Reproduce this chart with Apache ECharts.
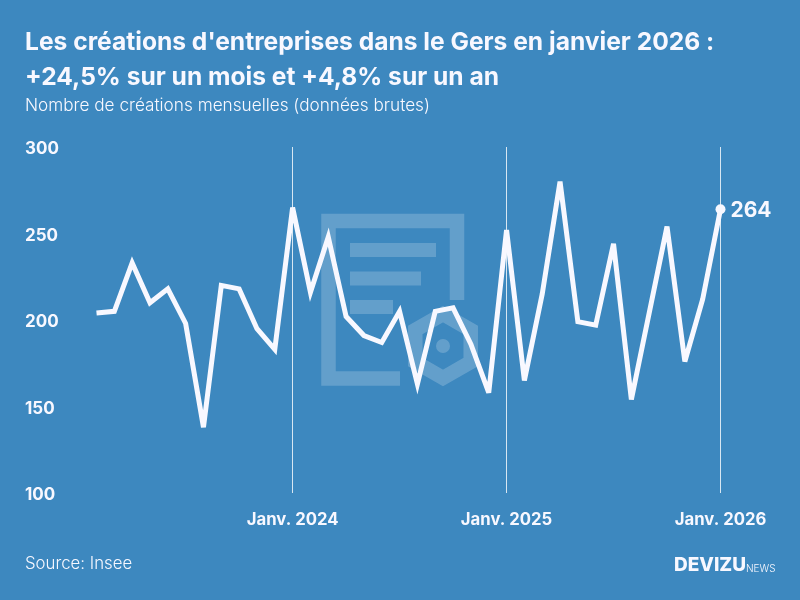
<!DOCTYPE html>
<html>
<head>
<meta charset="utf-8">
<title>Créations d'entreprises dans le Gers</title>
<script src="https://cdn.jsdelivr.net/npm/echarts@6/dist/echarts.min.js"></script>
<style>
html, body { margin: 0; padding: 0; background: #3d88bf; }
#chart { width: 800px; height: 600px; }
</style>
</head>
<body>
<div id="chart"></div>
<script>
var months = [
    'Févr. 2023', 'Mars 2023', 'Avr. 2023', 'Mai 2023', 'Juin 2023', 'Juil. 2023', 'Août 2023', 'Sept. 2023', 'Oct. 2023', 'Nov. 2023', 'Déc. 2023',
    'Janv. 2024', 'Févr. 2024', 'Mars 2024', 'Avr. 2024', 'Mai 2024', 'Juin 2024', 'Juil. 2024', 'Août 2024', 'Sept. 2024', 'Oct. 2024', 'Nov. 2024', 'Déc. 2024',
    'Janv. 2025', 'Févr. 2025', 'Mars 2025', 'Avr. 2025', 'Mai 2025', 'Juin 2025', 'Juil. 2025', 'Août 2025', 'Sept. 2025', 'Oct. 2025', 'Nov. 2025', 'Déc. 2025',
    'Janv. 2026'
];
var creations = [
    204, 205, 233, 210, 218, 198, 138, 220, 218, 195, 183,
    265, 216, 248, 202, 191, 187, 205, 163, 205, 207, 186, 158,
    252, 165, 215, 280, 199, 197, 244, 154, 204, 254, 176, 212,
    264
];
var titleLine1 = "Les créations d'entreprises dans le Gers en janvier 2026 :";
var titleLine2 = '+24,5% sur un mois et +4,8% sur un an';
var subtitle = 'Nombre de créations mensuelles (données brutes)';
var source = 'Source: Insee';

var FONT = 'Inter';
var INK = '#f8f8ff';
var GHOST = 'rgba(255,255,255,0.2)';

function isJanuary(index) {
    return months[index].indexOf('Janv.') === 0;
}

// filigrane hexagonal
function hexagon(cx, cy, r) {
    var pts = [];
    for (var i = 0; i < 6; i++) {
        var a = Math.PI / 3 * i - Math.PI / 2;
        pts.push([cx + r * Math.cos(a), cy + r * Math.sin(a)]);
    }
    return pts;
}

var myChart = echarts.init(document.getElementById('chart'));
var option = {
    backgroundColor: '#3d88bf',
    animation: false,
    title: [{
        text: titleLine1,
        left: 25,
        top: 30,
        padding: 0,
        textStyle: { color: INK, fontFamily: FONT, fontSize: 24.6, fontWeight: 700 }
    }, {
        text: titleLine2,
        left: 25,
        top: 65,
        padding: 0,
        textStyle: { color: INK, fontFamily: FONT, fontSize: 24.6, fontWeight: 700 }
    }, {
        text: subtitle,
        left: 25,
        top: 97,
        padding: 0,
        textStyle: { color: INK, fontFamily: FONT, fontSize: 17.2, fontWeight: 300 }
    }, {
        text: source,
        left: 25,
        top: 555,
        padding: 0,
        textStyle: { color: INK, fontFamily: FONT, fontSize: 16.8, fontWeight: 300 }
    }],
    grid: { left: 96.5, right: 79.5, top: 147, bottom: 107 },
    xAxis: {
        type: 'category',
        data: months,
        boundaryGap: false,
        axisLine: { show: false },
        axisTick: { show: false },
        axisLabel: {
            interval: function (index) { return isJanuary(index); },
            hideOverlap: false,
            color: INK,
            fontFamily: FONT,
            fontSize: 16.7,
            fontWeight: 700,
            margin: 18
        },
        splitLine: {
            show: true,
            interval: function (index) { return isJanuary(index); },
            lineStyle: { color: 'rgba(255,255,255,0.8)', width: 1 }
        }
    },
    yAxis: {
        type: 'value',
        min: 100,
        max: 300,
        interval: 50,
        axisLine: { show: false },
        axisTick: { show: false },
        splitLine: { show: false },
        axisLabel: {
            align: 'left',
            margin: 71.5,
            formatter: '{a|{value}}',
            rich: {
                a: { color: INK, fontFamily: FONT, fontSize: 17, fontWeight: 700, padding: [4, 0, 0, 0] }
            }
        }
    },
    series: [{
        name: 'Créations',
        type: 'line',
        data: creations,
        smooth: false,
        symbol: function (value, params) {
            return params.dataIndex === creations.length - 1 ? 'circle' : 'none';
        },
        symbolSize: 10,
        itemStyle: { color: INK },
        lineStyle: { color: INK, width: 5, join: 'miter', miterLimit: 4.3, cap: 'butt' },
        endLabel: {
            show: true,
            formatter: '{a|{c}}',
            distance: 10,
            rich: {
                a: { color: INK, fontFamily: FONT, fontSize: 21, fontWeight: 700, padding: [2, 0, 0, 0] }
            }
        }
    }],
    graphic: [
        { type: 'polyline', z: 0, silent: true, shape: { points: [[400, 378.5], [328.5, 378.5], [328.5, 221], [457, 221], [457, 300]] }, style: { fill: null, stroke: GHOST, lineWidth: 14.5, lineJoin: 'miter' } },
        { type: 'rect', z: 0, silent: true, shape: { x: 350, y: 243, width: 86, height: 14 }, style: { fill: GHOST } },
        { type: 'rect', z: 0, silent: true, shape: { x: 350, y: 271.5, width: 71, height: 14 }, style: { fill: GHOST } },
        { type: 'rect', z: 0, silent: true, shape: { x: 350, y: 300, width: 43, height: 14 }, style: { fill: GHOST } },
        { type: 'polygon', z: 0, silent: true, shape: { points: hexagon(443, 346, 32) }, style: { fill: null, stroke: GHOST, lineWidth: 14.5, lineJoin: 'miter' } },
        { type: 'circle', z: 0, silent: true, shape: { cx: 443, cy: 346, r: 7 }, style: { fill: GHOST } },
        { type: 'text', silent: true, left: 674, top: 556, style: { text: 'DEVIZU', fill: INK, font: '800 19px ' + FONT } },
        { type: 'text', silent: true, left: 746, top: 564, style: { text: 'NEWS', fill: INK, font: '300 10px ' + FONT } }
    ]
};
myChart.setOption(option);
</script>
</body>
</html>
